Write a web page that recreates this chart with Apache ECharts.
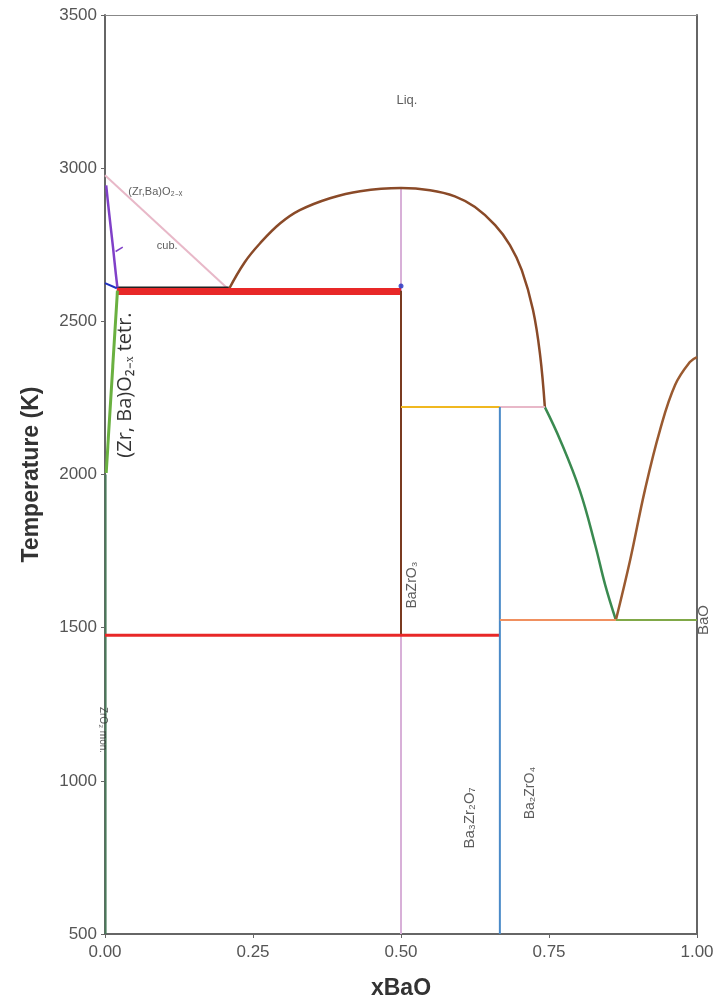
<!DOCTYPE html>
<html>
<head>
<meta charset="utf-8">
<script src="https://cdn.jsdelivr.net/npm/echarts@6/dist/echarts.min.js"></script>
<style>html,body{margin:0;padding:0;background:#fff}#c{width:721px;height:1005px}</style>
</head>
<body>
<div id="c"></div>
<script>
// ---- data (xBaO, Temperature K) ----
const xTicks = [0, 0.25, 0.5, 0.75, 1.0];
const yTicks = [500, 1000, 1500, 2000, 2500, 3000, 3500];

const liqLeft = [[0, 2977], [0.209, 2604]];
const liqCenter = [[0.209, 2604], [0.236, 2693], [0.262, 2755], [0.296, 2820], [0.329, 2863], [0.380, 2902], [0.431, 2925], [0.5, 2935], [0.549, 2928], [0.591, 2908], [0.625, 2873], [0.659, 2814], [0.684, 2749], [0.704, 2667], [0.723, 2537], [0.735, 2390], [0.743, 2220]];
const liqGreen = [[0.743, 2220], [0.769, 2112], [0.802, 1948], [0.828, 1770], [0.845, 1639], [0.863, 1525]];
const liqBaO = [[0.863, 1525], [0.887, 1720], [0.912, 1949], [0.9375, 2145], [0.963, 2292], [0.988, 2367], [1.0, 2383]];
const cubBoundary = [[0.002, 2944], [0.006, 2870], [0.0135, 2742], [0.018, 2660], [0.021, 2610]];
const cubLeader = [[0.018, 2728], [0.030, 2742]];
const blueSeg = [[0, 2625], [0.02, 2608]];
const tetrBoundary = [[0.021, 2600], [0.002, 2005]];
const monLine = [[0.001, 500], [0.001, 2000]];
const eut2600 = [[0.02, 2597], [0.5, 2597]];
const black2610 = [[0.02, 2611], [0.209, 2611]];
const baZrO3Pink = [[0.5, 2935], [0.5, 500]];
const baZrO3Brown = [[0.5, 2600], [0.5, 1475]];
const blueDot = [[0.5, 2615]];
const red1475 = [[0, 1475], [0.667, 1475]];
const per2220Yellow = [[0.5, 2220], [0.667, 2220]];
const per2220Pink = [[0.667, 2220], [0.743, 2220]];
const ba3Zr2O7Line = [[0.667, 2220], [0.667, 500]];
const eut1525Salmon = [[0.667, 1525], [0.863, 1525]];
const eut1525Green = [[0.863, 1525], [1.0, 1525]];

const labels = [
  {text: 'Liq.', x: 0.51, y: 3222, rotate: 0, size: 13, color: '#333'},
  {text: '(Zr,Ba)O₂₋ₓ', x: 0.085, y: 2922, rotate: 0, size: 11, color: '#333'},
  {text: 'cub.', x: 0.105, y: 2745, rotate: 0, size: 11, color: '#333'},
  {text: '(Zr, Ba)O₂₋ₓ tetr.', x: 0.034, y: 2292, rotate: 90, size: 20, color: '#000'},
  {text: 'BaZrO₃', x: 0.518, y: 1639, rotate: 90, size: 14, color: '#333'},
  {text: 'Ba₃Zr₂O₇', x: 0.617, y: 879, rotate: 90, size: 15, color: '#333'},
  {text: 'Ba₂ZrO₄', x: 0.718, y: 960, rotate: 90, size: 14, color: '#333'},
  {text: 'BaO', x: 1.012, y: 1525, rotate: 90, size: 15, color: '#333'},
  {text: 'ZrO₂ mon.', x: -0.003, y: 1166, rotate: -90, size: 10, color: '#333'}
];

function line(data, color, width, smooth) {
  return {type: 'line', data: data, showSymbol: false, symbol: 'none', silent: true,
    smooth: smooth || false,
    lineStyle: {color: color, width: width}, clip: false, animation: false, z: 3};
}

const chart = echarts.init(document.getElementById('c'), null, {renderer: 'canvas'});
chart.setOption({
  animation: false,
  backgroundColor: '#fff',
  grid: {left: 105, right: 24, top: 15, bottom: 71},
  xAxis: [{
    type: 'value', min: 0, max: 1, interval: 0.25,
    name: 'xBaO', nameLocation: 'middle', nameGap: 43,
    nameTextStyle: {fontSize: 23, fontWeight: 'bold', color: '#333', fontFamily: 'Liberation Sans'},
    axisLine: {show: true, lineStyle: {color: '#666', width: 2}},
    axisTick: {show: true, length: 4, lineStyle: {color: '#666'}},
    axisLabel: {fontSize: 17, color: '#555', margin: 10, fontFamily: 'Liberation Sans',
      formatter: v => v.toFixed(2)},
    splitLine: {show: false}
  }, {
    type: 'value', min: 0, max: 1, position: 'top',
    axisLine: {show: true, onZero: false, lineStyle: {color: '#888', width: 1}},
    axisTick: {show: false}, axisLabel: {show: false}, splitLine: {show: false}
  }],
  yAxis: [{
    type: 'value', min: 500, max: 3500, interval: 500,
    name: 'Temperature (K)', nameLocation: 'middle', nameGap: 62,
    nameTextStyle: {fontSize: 23, fontWeight: 'bold', color: '#333', fontFamily: 'Liberation Sans'},
    axisLine: {show: true, lineStyle: {color: '#666', width: 2}},
    axisTick: {show: true, length: 4, lineStyle: {color: '#666'}},
    axisLabel: {fontSize: 17, color: '#555', margin: 8, fontFamily: 'Liberation Sans',
      formatter: v => String(v)},
    splitLine: {show: false}
  }, {
    type: 'value', min: 500, max: 3500, position: 'right',
    axisLine: {show: true, onZero: false, lineStyle: {color: '#666', width: 2}},
    axisTick: {show: false}, axisLabel: {show: false}, splitLine: {show: false}
  }],
  series: [
    line(monLine, '#4a7a5a', 2),
    line(liqLeft, '#e8b8c8', 2),
    line(baZrO3Pink, '#d8b0d8', 2),
    line(liqCenter, '#8a4a28', 2.5, 0.4),
    line(liqGreen, '#3a8a50', 2.5, 0.4),
    line(liqBaO, '#9a5a30', 2.5, 0.4),
    line(eut2600, '#e82828', 7),
    line(black2610, '#222', 1.5),
    line(cubBoundary, '#8040c8', 2.5, 0.4),
    line(cubLeader, '#8040c8', 1.5),
    line(blueSeg, '#2030c0', 2),
    line(tetrBoundary, '#6ab040', 3),
    line(baZrO3Brown, '#7a3a20', 2),
    line(red1475, '#e82828', 3),
    line(per2220Yellow, '#f0b820', 2),
    line(per2220Pink, '#e8b8c8', 2),
    line(ba3Zr2O7Line, '#4a8ac8', 2),
    line(eut1525Salmon, '#f09060', 2),
    line(eut1525Green, '#80a848', 2),
    {type: 'scatter', data: blueDot, symbolSize: 5, itemStyle: {color: '#2030c0'}, silent: true, z: 5},
    {type: 'scatter', symbolSize: 0, clip: false, silent: true, z: 6,
      data: labels.map(l => ({value: [l.x, l.y], label: {show: true, formatter: l.text, rotate: l.rotate,
        position: 'inside', fontSize: l.size, color: l.color,
        fontFamily: l.size >= 20 ? 'Open Sans' : 'Liberation Sans'}})),
      label: {show: true}
    }
  ]
});
</script>
</body>
</html>
